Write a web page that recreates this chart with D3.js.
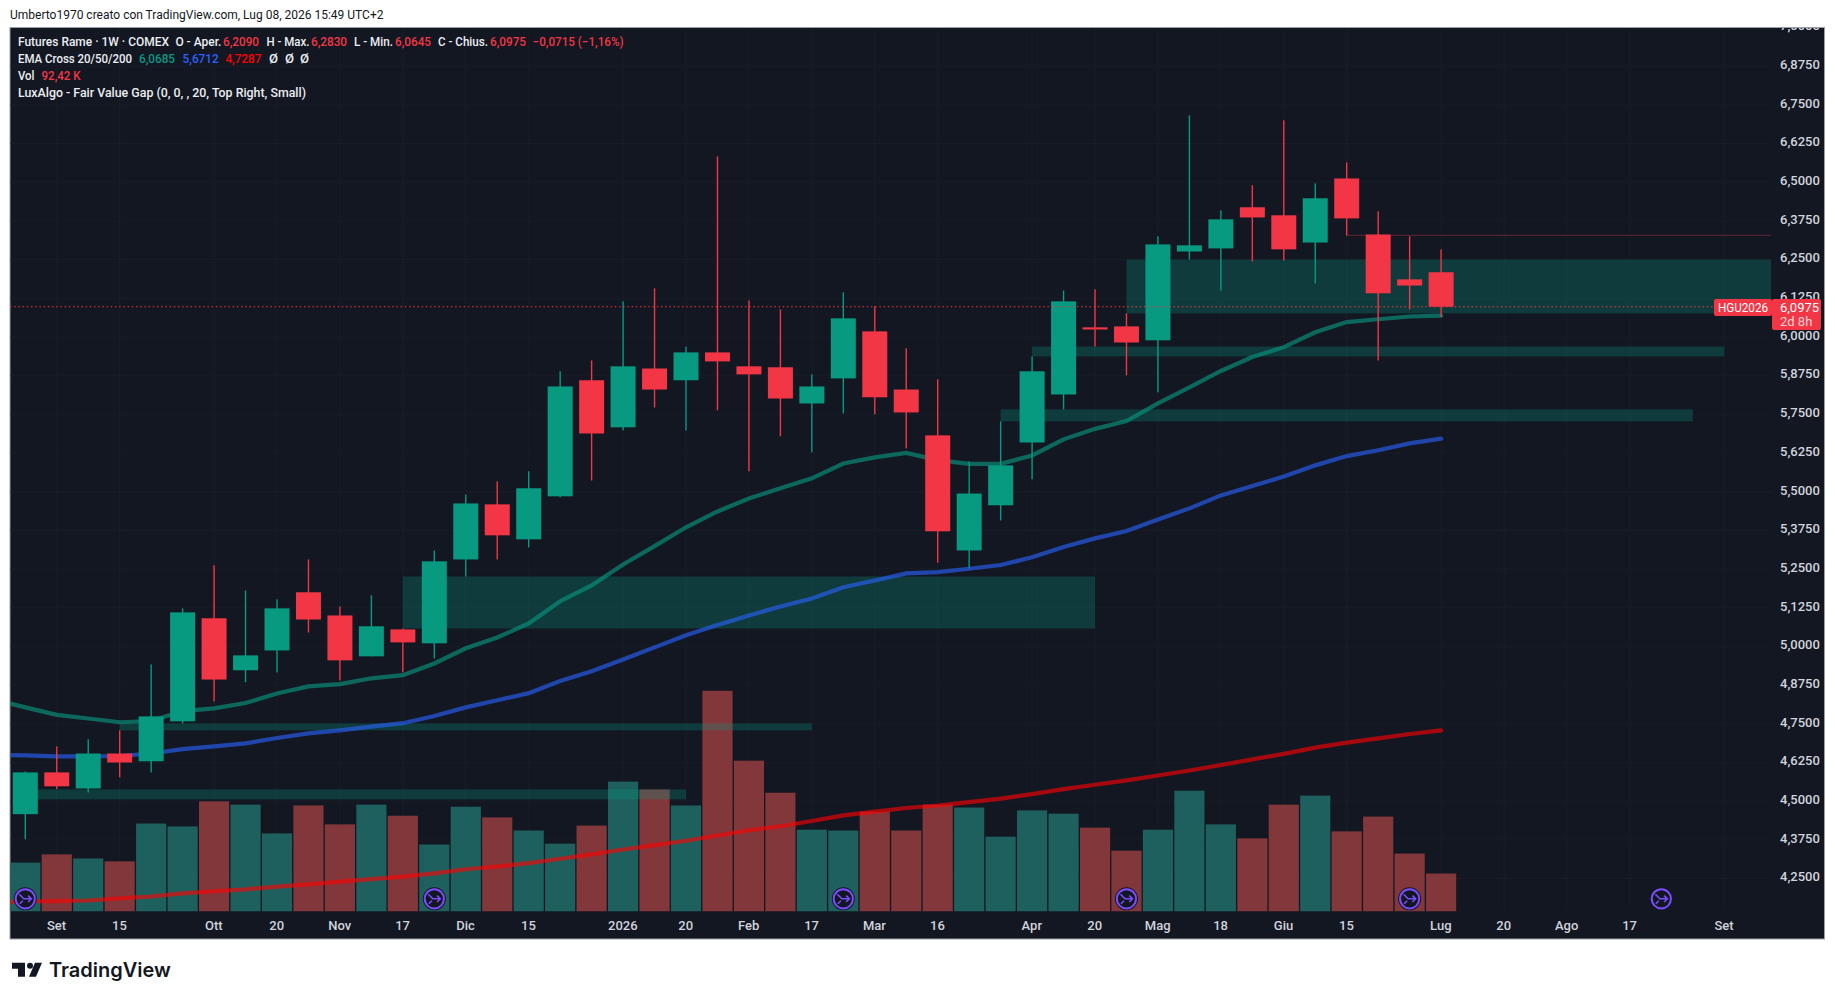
<!DOCTYPE html>
<html>
<head>
<meta charset="utf-8">
<title>Futures Rame</title>
<script src="https://cdn.jsdelivr.net/npm/d3@7"></script>
<style>
    body { margin: 0; background: #ffffff; overflow: hidden; }
    text { font-family: Roboto, "Liberation Sans", sans-serif; }
</style>
</head>
<body>
<div id="chart-area"></div>
<script>
// Weekly candles, first one is the week of Aug 25 2025
var opens = [4.458,4.593,4.541,4.654,4.629,4.758,5.091,4.923,4.987,5.175,5.100,4.968,5.055,5.010,5.281,5.459,5.346,5.485,5.860,5.708,5.898,5.860,5.950,5.905,5.902,5.785,5.866,6.018,5.830,5.682,5.310,5.456,5.659,5.814,6.031,6.034,5.989,6.276,6.286,6.419,6.393,6.305,6.512,6.331,6.186,6.209];
var highs = [4.596,4.677,4.700,4.729,4.942,5.123,5.262,5.181,5.152,5.281,5.129,5.165,5.058,5.310,5.491,5.533,5.566,5.889,5.924,6.115,6.157,5.969,6.583,6.118,6.089,5.879,6.144,6.099,5.963,5.863,5.598,5.727,5.937,6.150,6.154,6.076,6.325,6.716,6.409,6.490,6.700,6.496,6.564,6.406,6.325,6.283];
var lows = [4.377,4.539,4.528,4.577,4.593,4.751,4.822,4.884,4.916,5.045,4.890,4.968,4.916,4.961,5.226,5.281,5.320,5.482,5.536,5.698,5.772,5.698,5.763,5.566,5.679,5.627,5.753,5.750,5.640,5.271,5.252,5.407,5.540,5.766,5.969,5.876,5.821,6.250,6.150,6.244,6.247,6.173,6.328,5.924,6.089,6.0645];
var closes = [4.593,4.548,4.654,4.625,4.774,5.110,4.893,4.971,5.123,5.087,4.955,5.065,5.013,5.275,5.462,5.359,5.511,5.840,5.688,5.905,5.830,5.950,5.921,5.879,5.801,5.840,6.060,5.805,5.756,5.372,5.494,5.585,5.889,6.115,6.024,5.982,6.299,6.296,6.380,6.386,6.283,6.448,6.383,6.141,6.166,6.0975];

// Volume in thousands
var volumes = [119,139,129,122,214,207,268,260,190,258,212,260,233,163,255,229,197,165,209,316,297,258,537,367,289,199,197,243,197,260,253,182,246,238,204,148,199,294,212,178,260,282,195,231,141,92.42];

// EMAs, these start one week before the first candle
var ema20 = [4.829,4.803,4.779,4.767,4.755,4.759,4.791,4.800,4.817,4.848,4.871,4.878,4.897,4.907,4.945,4.994,5.029,5.074,5.146,5.197,5.265,5.324,5.385,5.436,5.478,5.511,5.543,5.591,5.611,5.625,5.602,5.590,5.590,5.617,5.669,5.703,5.728,5.785,5.837,5.890,5.935,5.967,6.015,6.048,6.057,6.066,6.0685];
var ema50 = [4.650,4.648,4.645,4.645,4.646,4.654,4.668,4.677,4.687,4.704,4.719,4.729,4.741,4.752,4.775,4.803,4.826,4.849,4.888,4.920,4.958,4.997,5.036,5.069,5.100,5.129,5.155,5.191,5.213,5.236,5.240,5.251,5.263,5.288,5.321,5.349,5.373,5.410,5.446,5.488,5.518,5.549,5.585,5.615,5.634,5.656,5.6712];
var ema200 = [4.173,4.176,4.177,4.179,4.186,4.192,4.202,4.209,4.215,4.224,4.231,4.240,4.248,4.256,4.267,4.280,4.289,4.300,4.314,4.328,4.344,4.358,4.372,4.389,4.406,4.419,4.436,4.454,4.466,4.478,4.486,4.497,4.508,4.523,4.539,4.553,4.567,4.583,4.599,4.617,4.635,4.653,4.673,4.689,4.703,4.717,4.7287];

// Fair value gaps
var fvgStart = [12, 3, 0, 35, 32, 31];
var fvgEnd = [34, 25, 21, 56, 54, 53];
var fvgTop = [5.226, 4.751, 4.538, 6.250, 5.969, 5.766];
var fvgBottom = [5.058, 4.729, 4.506, 6.076, 5.937, 5.727];

// Axis labels
var priceTicks = [4.25,4.375,4.5,4.625,4.75,4.875,5,5.125,5.25,5.375,5.5,5.625,5.75,5.875,6,6.125,6.25,6.375,6.5,6.625,6.75,6.875,7];
var timeTickIndex = [1,3,6,8,10,12,14,16,19,21,23,25,27,29,32,34,36,38,40,42,45,47,49,51,54];
var timeTickLabels = ["Set","15","Ott","20","Nov","17","Dic","15","2026","20","Feb","17","Mar","16","Apr","20","Mag","18","Giu","15","Lug","20","Ago","17","Set"];

// Weeks with a contract event marker
var eventIndex = [0, 13, 26, 35, 44, 52];

var lastPrice = 6.0975;
var swingLowPrice = 6.328;
var swingLowIndex = 42;

var colorUp = "#089981", colorDown = "#f23645";
var volUp = "#1e605e", volDown = "#82373b";

var frame = { left: 10, right: 1824.5, top: 27.5, bottom: 939 };
var plotRight = 1771, plotBottom = 911.5;

var svg = d3.select("#chart-area")
    .append("svg")
        .attr("width", 1835)
        .attr("height", 1000)
        .style("display", "block");

// Scales
var x = d3.scaleLinear().domain([0, 45]).range([25.3, 1441.1]);
var y = d3.scaleLinear().domain([6.75, 4.25]).range([104.8, 878.55]);
var yVol = d3.scaleLinear().domain([0, 100]).range([plotBottom, plotBottom - 41.1]);

var fmt = d3.formatLocale({ decimal: ",", thousands: ".", grouping: [3], currency: ["", "€"] }).format(".4f");
var isUp = function(i) { return closes[i] >= opens[i]; };
var weeks = d3.range(opens.length);
var step = x(1) - x(0);

// Chart background
svg.append("rect")
    .attr("x", frame.left)
    .attr("y", frame.top)
    .attr("width", frame.right - frame.left)
    .attr("height", frame.bottom - frame.top)
    .attr("fill", "#131722")
    .attr("stroke", "#9a9ea8")
    .attr("stroke-width", 1);

svg.append("clipPath").attr("id", "plot")
    .append("rect")
        .attr("x", frame.left + 0.5)
        .attr("y", frame.top + 0.5)
        .attr("width", plotRight - frame.left - 0.5)
        .attr("height", plotBottom - frame.top - 0.5);

svg.append("clipPath").attr("id", "scale")
    .append("rect")
        .attr("x", plotRight)
        .attr("y", frame.top + 0.5)
        .attr("width", frame.right - plotRight)
        .attr("height", plotBottom - frame.top);

var g = svg.append("g").attr("clip-path", "url(#plot)");

// Grid
g.selectAll(".gridH")
    .data(priceTicks)
    .enter().append("line")
        .attr("x1", frame.left)
        .attr("x2", plotRight)
        .attr("y1", function(d) { return y(d); })
        .attr("y2", function(d) { return y(d); })
        .attr("stroke", "#191d28");

g.selectAll(".gridV")
    .data(timeTickIndex)
    .enter().append("line")
        .attr("x1", function(d) { return x(d); })
        .attr("x2", function(d) { return x(d); })
        .attr("y1", frame.top)
        .attr("y2", plotBottom)
        .attr("stroke", "#191d28");

// Volume
g.selectAll(".vol")
    .data(volumes)
    .enter().append("rect")
        .attr("x", function(d, i) { return x(i) - (step - 1.3) / 2; })
        .attr("y", function(d) { return yVol(d); })
        .attr("width", step - 1.3)
        .attr("height", function(d) { return plotBottom - yVol(d); })
        .attr("fill", function(d, i) { return isUp(i) ? volUp : volDown; });

// FVG boxes
g.selectAll(".fvg")
    .data(fvgStart)
    .enter().append("rect")
        .attr("x", function(d) { return x(d); })
        .attr("y", function(d, i) { return y(fvgTop[i]); })
        .attr("width", function(d, i) { return x(fvgEnd[i]) - x(d); })
        .attr("height", function(d, i) { return y(fvgBottom[i]) - y(fvgTop[i]); })
        .attr("fill", colorUp)
        .attr("fill-opacity", 0.28);

// EMA lines
var emaLine = d3.line()
    .x(function(d, i) { return x(i - 1); })
    .y(function(d) { return y(d); });

[[ema20, colorUp], [ema50, "#2962ff"], [ema200, "#ff0000"]].forEach(function(s) {
    g.append("path")
        .attr("d", emaLine(s[0]))
        .attr("fill", "none")
        .attr("stroke", s[1])
        .attr("stroke-opacity", 0.62)
        .attr("stroke-width", 4.2)
        .attr("stroke-linecap", "round");
});

// Wicks
g.selectAll(".wick")
    .data(weeks)
    .enter().append("rect")
        .attr("x", function(d) { return x(d) - 0.7; })
        .attr("y", function(d) { return y(highs[d]); })
        .attr("width", 1.4)
        .attr("height", function(d) { return y(lows[d]) - y(highs[d]); })
        .attr("fill", function(d) { return isUp(d) ? colorUp : colorDown; });

// Candle bodies
g.selectAll(".body")
    .data(weeks)
    .enter().append("rect")
        .attr("x", function(d) { return x(d) - 12.5; })
        .attr("y", function(d) { return y(Math.max(opens[d], closes[d])); })
        .attr("width", 25)
        .attr("height", function(d) { return Math.abs(y(opens[d]) - y(closes[d])); })
        .attr("fill", function(d) { return isUp(d) ? colorUp : colorDown; });

// Swing low ray
g.append("line")
    .attr("x1", x(swingLowIndex))
    .attr("x2", plotRight)
    .attr("y1", y(swingLowPrice))
    .attr("y2", y(swingLowPrice))
    .attr("stroke", colorDown)
    .attr("stroke-opacity", 0.3)
    .attr("stroke-width", 1.4);

// Last price line
g.append("line")
    .attr("x1", frame.left)
    .attr("x2", plotRight)
    .attr("y1", y(lastPrice))
    .attr("y2", y(lastPrice))
    .attr("stroke", colorDown)
    .attr("stroke-width", 1)
    .attr("stroke-dasharray", "1.5 2.7");

// Event markers
var marker = svg.selectAll(".marker")
    .data(eventIndex)
    .enter().append("g")
        .attr("transform", function(d) { return "translate(" + x(d) + "," + 898.8 + ")"; });

marker.append("circle")
    .attr("r", 11.5)
    .attr("fill", "#131722");

marker.append("circle")
    .attr("r", 9.6)
    .attr("fill", "#131722")
    .attr("stroke", "#7c4dff")
    .attr("stroke-width", 2);

marker.append("path")
    .attr("d", "M-6,-4.5 L-1.5,0 L6,0 M2.8,-3.2 L6,0 L2.8,3.2 M-5.5,5 L-2.5,2")
    .attr("fill", "none")
    .attr("stroke", "#7c4dff")
    .attr("stroke-width", 1.6);

// Price axis
var yAxisCall = d3.axisRight(y)
    .tickValues(priceTicks)
    .tickFormat(function(d) { return fmt(d); })
    .tickSize(0)
    .tickPadding(0);

var yAxis = svg.append("g")
    .attr("clip-path", "url(#scale)")
    .append("g")
        .attr("transform", "translate(1780,0)")
        .call(yAxisCall);

yAxis.select(".domain").remove();
yAxis.selectAll("text")
    .attr("fill", "#d1d4dc")
    .attr("font-size", "13px")
    .attr("font-weight", 500)
    .attr("dy", "0.18em");

// Time axis
var xAxisCall = d3.axisBottom(x)
    .tickValues(timeTickIndex)
    .tickFormat(function(d, i) { return timeTickLabels[i]; })
    .tickSize(0)
    .tickPadding(0);

var xAxis = svg.append("g")
    .attr("transform", "translate(-0.8," + plotBottom + ")")
    .call(xAxisCall);

xAxis.select(".domain").remove();
xAxis.selectAll("text")
    .attr("fill", "#d1d4dc")
    .attr("font-size", "13px")
    .attr("font-weight", 500)
    .attr("y", 9)
    .attr("dy", "0.71em");

// Last price tags
svg.append("rect")
    .attr("x", 1714)
    .attr("y", 299)
    .attr("width", 58)
    .attr("height", 17)
    .attr("rx", 2)
    .attr("fill", colorDown);

svg.append("text")
    .attr("x", 1743)
    .attr("y", 312)
    .attr("text-anchor", "middle")
    .attr("font-size", "13px")
    .attr("fill", "#ffffff")
    .attr("textLength", 50)
    .attr("lengthAdjust", "spacingAndGlyphs")
    .text("HGU2026");

svg.append("rect")
    .attr("x", 1772)
    .attr("y", 299)
    .attr("width", 49)
    .attr("height", 31)
    .attr("rx", 2)
    .attr("fill", colorDown);

svg.append("text")
    .attr("x", 1780)
    .attr("y", 311.5)
    .attr("font-size", "13px")
    .attr("fill", "#ffffff")
    .text(fmt(lastPrice));

svg.append("text")
    .attr("x", 1780)
    .attr("y", 325.5)
    .attr("font-size", "13px")
    .attr("fill", "#ffd3d6")
    .text("2d 8h");

// Header line above the chart
svg.append("text")
    .attr("x", 10)
    .attr("y", 19)
    .attr("font-size", "12px")
    .attr("fill", "#131722")
    .text("Umberto1970 creato con TradingView.com, Lug 08, 2026 15:49 UTC+2");

// Legend, last column is the drawn text width
var legendRows = [45.5, 62.5, 79.5, 96.5];
var legendColor = { w: "#eceef2", r: "#f23645", g: "#089981", b: "#2962ff", f: "#ff0000" };

var legendItems = [
    [0, 18, "w", "Futures Rame · 1W · COMEX", 151],
    [0, 175.4, "w", "O - Aper.", 46], [0, 223, "r", "6,2090", 36],
    [0, 266.5, "w", "H - Max.", 43], [0, 311, "r", "6,2830", 36],
    [0, 354, "w", "L - Min.", 39], [0, 395, "r", "6,0645", 36],
    [0, 438, "w", "C - Chius.", 50], [0, 490, "r", "6,0975", 36],
    [0, 532.6, "r", "−0,0715 (−1,16%)", 91],
    [1, 18, "w", "EMA Cross 20/50/200", 114],
    [1, 139, "g", "6,0685", 36], [1, 182.6, "b", "5,6712", 36], [1, 225.4, "f", "4,7287", 36],
    [1, 269, "w", "Ø", 9], [1, 285, "w", "Ø", 9], [1, 300, "w", "Ø", 9],
    [2, 18, "w", "Vol", 16.5], [2, 41.5, "r", "92,42 K", 39],
    [3, 18, "w", "LuxAlgo - Fair Value Gap (0, 0, , 20, Top Right, Small)", 288]
];

svg.selectAll(".legend")
    .data(legendItems)
    .enter().append("text")
        .attr("x", function(d) { return d[1]; })
        .attr("y", function(d) { return legendRows[d[0]]; })
        .attr("font-size", "12.5px")
        .attr("font-weight", 500)
        .attr("fill", function(d) { return legendColor[d[2]]; })
        .attr("textLength", function(d) { return d[4]; })
        .attr("lengthAdjust", "spacingAndGlyphs")
        .text(function(d) { return d[3]; });

// TradingView watermark
var logo = svg.append("g").attr("transform", "translate(12,962.7)");

logo.append("path")
    .attr("d", "M0,0 H13 V14 H6 V6 H0 Z M23,0 H30 L24,14 H17 Z")
    .attr("fill", "#131722");

logo.append("circle")
    .attr("cx", 18)
    .attr("cy", 3)
    .attr("r", 3)
    .attr("fill", "#131722");

svg.append("text")
    .attr("x", 49)
    .attr("y", 976.7)
    .attr("font-size", "20px")
    .attr("font-weight", 600)
    .attr("fill", "#131722")
    .style("font-family", "Inter, Roboto, sans-serif")
    .text("TradingView");
</script>
</body>
</html>
